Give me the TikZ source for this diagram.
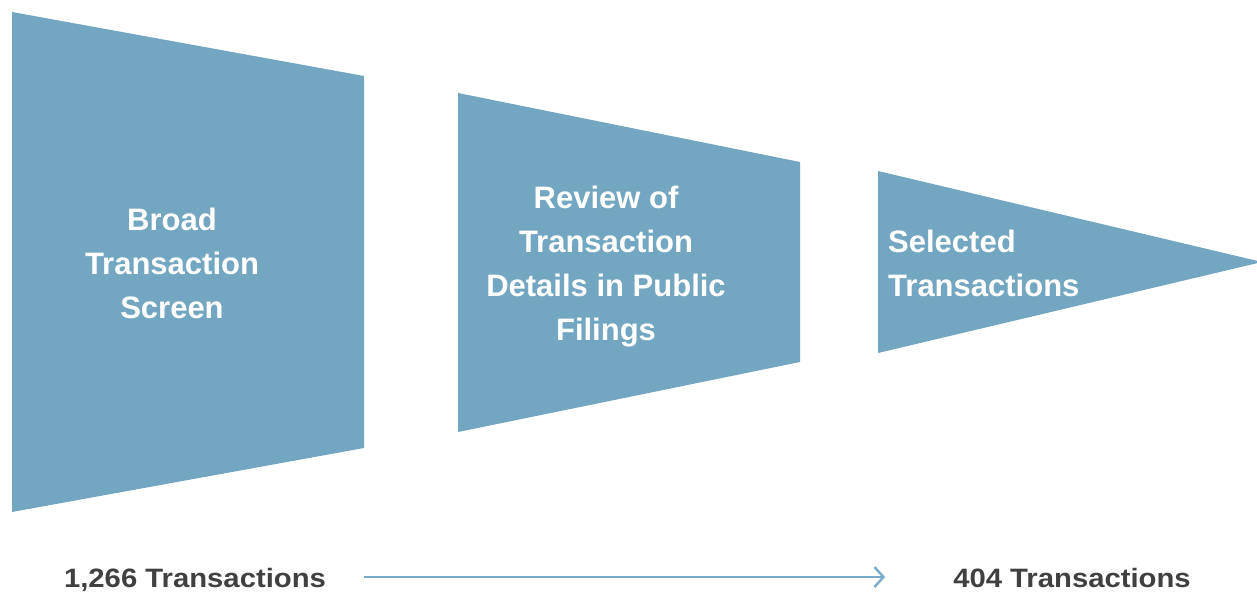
\documentclass[tikz,border=0pt]{standalone}
\usepackage{fontspec}
\setmainfont{Liberation Sans}
\newfontfamily\countfont[FakeStretch=1.1]{Liberation Sans}
\usetikzlibrary{arrows.meta}
\definecolor{funnel}{RGB}{115,166,192}
\definecolor{arrowc}{RGB}{122,170,201}
\definecolor{labelc}{RGB}{64,64,64}
\tikzset{
  stage/.style={fill=funnel,draw=none},
  intext/.style={text=white,font=\fontsize{31}{44}\selectfont\bfseries,inner sep=0pt},
  count/.style={text=labelc,font=\countfont\fontsize{26.6}{32}\selectfont\bfseries,inner sep=0pt,text height=20pt,text depth=0pt},
  flow/.style={draw=arrowc,line width=2.4pt,-{Straight Barb[length=9pt,width=20pt,line width=2.4pt]}}
}
\begin{document}
\begin{tikzpicture}[x=1pt,y=-1pt]
\useasboundingbox (0,0) rectangle (1257,593);
\fill[stage] (12,12) -- (364,76) -- (364,448) -- (12,512) -- cycle;
\fill[stage] (458,93) -- (800,162) -- (800,362) -- (458,432) -- cycle;
\fill[stage] (878,171) -- (1262,262) -- (878,353) -- cycle;
\node[intext,align=center] (s1) at (172,263) {Broad\\Transaction\\Screen};
\node[intext,align=center] (s2) at (606,267) {Review of\\Transaction\\Details in Public\\Filings};
\node[intext,align=left,anchor=west] (s3) at (888,263) {Selected\\Transactions};
\node[count] (l1) at (195,577) {1,266 Transactions};
\node[count] (l2) at (1072,577) {404 Transactions};
\draw[flow,shorten <=38pt,shorten >=68pt] (l1.east) -- (l2.west);
\end{tikzpicture}
\end{document}
